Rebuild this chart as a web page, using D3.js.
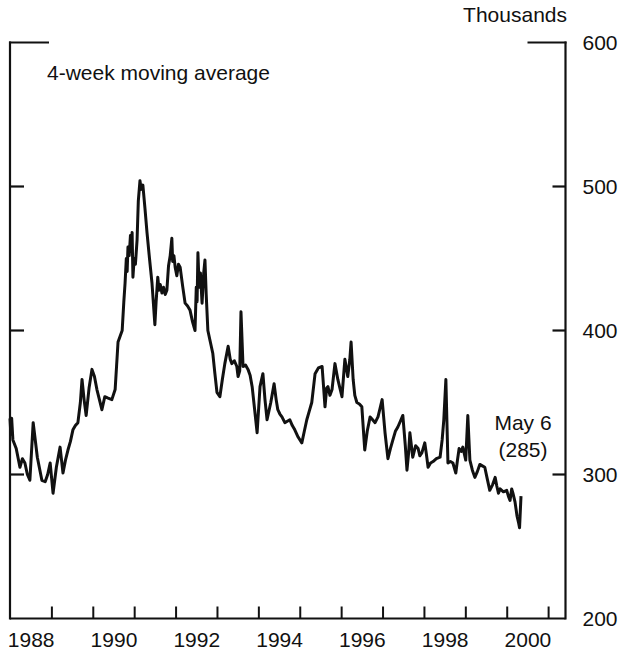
<!DOCTYPE html>
<html><head><meta charset="utf-8">
<script src="https://cdn.jsdelivr.net/npm/d3@7"></script>
<style>
html,body{margin:0;padding:0;background:#fff;}
svg text{font-family:"Liberation Sans",Arial,Helvetica,sans-serif;fill:#111;}
</style></head>
<body><svg id="c" width="625" height="657"></svg>
<script>
// decimal-year dates and 4-week moving average (thousands)
const dates = [1988.00,1988.02,1988.04,1988.07,1988.15,1988.24,1988.30,1988.36,1988.42,1988.48,1988.56,
1988.66,1988.77,1988.85,1988.91,1988.97,1989.04,1989.12,1989.21,1989.28,1989.34,1989.40,
1989.46,1989.52,1989.58,1989.64,1989.70,1989.74,1989.79,1989.84,1989.91,1989.98,
1990.04,1990.10,1990.16,1990.22,1990.29,1990.37,1990.46,1990.54,1990.61,1990.66,
1990.71,1990.75,1990.78,1990.81,1990.83,1990.85,1990.88,1990.91,1990.93,1990.95,
1990.97,1991.00,1991.03,1991.07,1991.10,1991.14,1991.17,1991.21,1991.26,1991.31,
1991.37,1991.43,1991.50,1991.53,1991.57,1991.60,1991.63,1991.67,1991.71,1991.75,
1991.79,1991.83,1991.87,1991.91,1991.93,1991.96,1991.99,1992.03,1992.07,1992.11,
1992.17,1992.23,1992.29,1992.35,1992.41,1992.47,1992.50,1992.52,1992.54,1992.57,
1992.60,1992.64,1992.68,1992.71,1992.74,1992.78,1992.84,1992.90,1992.95,1993.00,
1993.07,1993.13,1993.19,1993.27,1993.32,1993.36,1993.42,1993.48,1993.51,1993.55,
1993.58,1993.63,1993.69,1993.75,1993.80,1993.85,1993.91,1993.97,1994.04,1994.11,
1994.16,1994.21,1994.30,1994.38,1994.43,1994.47,1994.52,1994.57,1994.64,1994.70,
1994.76,1994.82,1994.88,1994.96,1995.05,1995.11,1995.17,1995.23,1995.29,1995.37,
1995.45,1995.54,1995.61,1995.65,1995.68,1995.73,1995.78,1995.85,1995.92,1995.97,
1996.02,1996.09,1996.16,1996.21,1996.24,1996.29,1996.33,1996.38,1996.44,1996.50,
1996.57,1996.63,1996.70,1996.76,1996.82,1996.89,1996.94,1996.99,1997.06,1997.13,
1997.19,1997.25,1997.31,1997.37,1997.43,1997.49,1997.55,1997.59,1997.63,1997.66,
1997.73,1997.80,1997.86,1997.90,1997.95,1998.02,1998.06,1998.10,1998.16,1998.22,
1998.30,1998.39,1998.44,1998.48,1998.53,1998.58,1998.64,1998.70,1998.77,1998.81,
1998.85,1998.90,1998.94,1999.01,1999.06,1999.11,1999.17,1999.23,1999.29,1999.35,
1999.41,1999.47,1999.53,1999.59,1999.66,1999.72,1999.76,1999.80,1999.84,1999.92,
2000.00,2000.04,2000.08,2000.12,2000.15,2000.20,2000.25,2000.29,2000.31,2000.345];
const claims = [339,328,339,324,318,305,311,308,300,296,336,
312,296,295,300,308,287,305,319,301,310,317,
323,331,334,336,350,366,352,341,360,373,
368,359,352,345,354,353,352,359,392,396,
400,420,433,450,441,458,452,466,455,468,
437,450,446,463,490,504,498,501,485,468,
450,433,404,420,437,428,432,426,430,425,
428,445,452,464,448,452,444,438,446,444,
431,419,417,414,406,400,430,420,454,430,
440,419,440,449,425,400,392,384,370,357,
354,366,377,389,380,377,379,375,368,372,
413,375,376,373,369,361,345,329,361,370,
352,338,350,363,352,345,342,340,336,337,
338,334,331,326,322,330,338,344,350,370,
374,375,347,360,361,355,359,377,366,360,
354,380,368,380,392,366,355,350,349,347,
317,330,340,338,336,340,346,352,329,311,
318,324,330,333,337,341,320,303,315,329,
312,320,318,313,315,322,314,305,308,309,
311,312,324,338,366,308,309,308,301,310,
318,316,319,310,341,310,303,298,302,307,
306,305,297,289,293,298,292,287,290,288,
289,285,282,290,287,281,271,266,263,285];
const yTicks = [200,300,400,500,600];
const yearLabels = [1988,1990,1992,1994,1996,1998,2000];
const yearTicks = [1989,1990,1991,1992,1993,1994,1995,1996,1997,1998,1999,2000,2001];
const unitLabel = "Thousands";
const seriesLabel = "4-week moving average";
const endLabel = ["May 6","(285)"];

const svg = d3.select("#c");
const L = 10, R = 565.5, T = 42.5, B = 618.5;
const x = d3.scaleLinear().domain([1988, 2001.42]).range([L, R]);
const y = d3.scaleLinear().domain([200, 600]).range([B, T]);
const FS = "21px";

// line
const data = dates.map((d,i)=>({d, v: claims[i]}));
svg.append("path").datum(data)
  .attr("fill","none").attr("stroke","#111").attr("stroke-width",3)
  .attr("stroke-linejoin","round")
  .attr("d", d3.line().x(p=>x(p.d)).y(p=>y(p.v)));

// frame: left, right, bottom
const ax = svg.append("g").attr("stroke","#111").attr("stroke-width",2.2).attr("fill","none");
ax.append("line").attr("x1",L).attr("x2",L).attr("y1",T-1).attr("y2",B+1);
ax.append("line").attr("x1",R).attr("x2",R).attr("y1",T-1).attr("y2",B+1);
ax.append("line").attr("x1",L).attr("x2",R).attr("y1",B).attr("y2",B);
ax.append("line").attr("x1",L-1).attr("x2",L+39).attr("y1",T).attr("y2",T);
ax.append("line").attr("x1",R-38).attr("x2",R+1).attr("y1",T).attr("y2",T);

// left inner ticks
const inner = yTicks.filter(v=>v>200 && v<600);
ax.selectAll(".lt").data(inner).enter().append("line")
  .attr("x1",L).attr("x2",L+14).attr("y1",d=>y(d)).attr("y2",d=>y(d));

// right axis
const yAxis = d3.axisRight(y).tickValues(yTicks).tickSize(0).tickPadding(17).tickFormat(d3.format("d"));
const gy = svg.append("g").attr("transform",`translate(${R},0)`).call(yAxis);
gy.select(".domain").remove();
gy.selectAll("text").attr("font-size",FS).attr("fill","#111");
ax.selectAll(".rt").data(inner).enter().append("line")
  .attr("x1",R-13).attr("x2",R).attr("y1",d=>y(d)).attr("y2",d=>y(d));

// bottom ticks at year boundaries
const xTickAxis = d3.axisBottom(x).tickValues(yearTicks).tickSize(-12).tickFormat("");
const gx = svg.append("g").attr("transform",`translate(0,${B})`).call(xTickAxis);
gx.select(".domain").remove();
gx.selectAll("line").attr("stroke","#111").attr("stroke-width",2);

// year labels centred in year
const xLabAxis = d3.axisBottom(d3.scaleLinear().domain(x.domain().map(v=>v-0.5)).range(x.range()))
  .tickValues(yearLabels).tickSize(0).tickPadding(14).tickFormat(d3.format("d"));
const gl = svg.append("g").attr("transform",`translate(0,${B})`).call(xLabAxis);
gl.select(".domain").remove();
gl.selectAll("text").attr("font-size",FS).attr("fill","#111");

// texts
svg.append("text").attr("x",567).attr("y",22).attr("text-anchor","end").attr("font-size",FS).text(unitLabel);
svg.append("text").attr("x",47).attr("y",80).attr("font-size",FS).text(seriesLabel);
svg.append("text").attr("x",523).attr("y",430).attr("text-anchor","middle").attr("font-size",FS).text(endLabel[0]);
svg.append("text").attr("x",523).attr("y",457).attr("text-anchor","middle").attr("font-size",FS).text(endLabel[1]);
</script></body></html>
